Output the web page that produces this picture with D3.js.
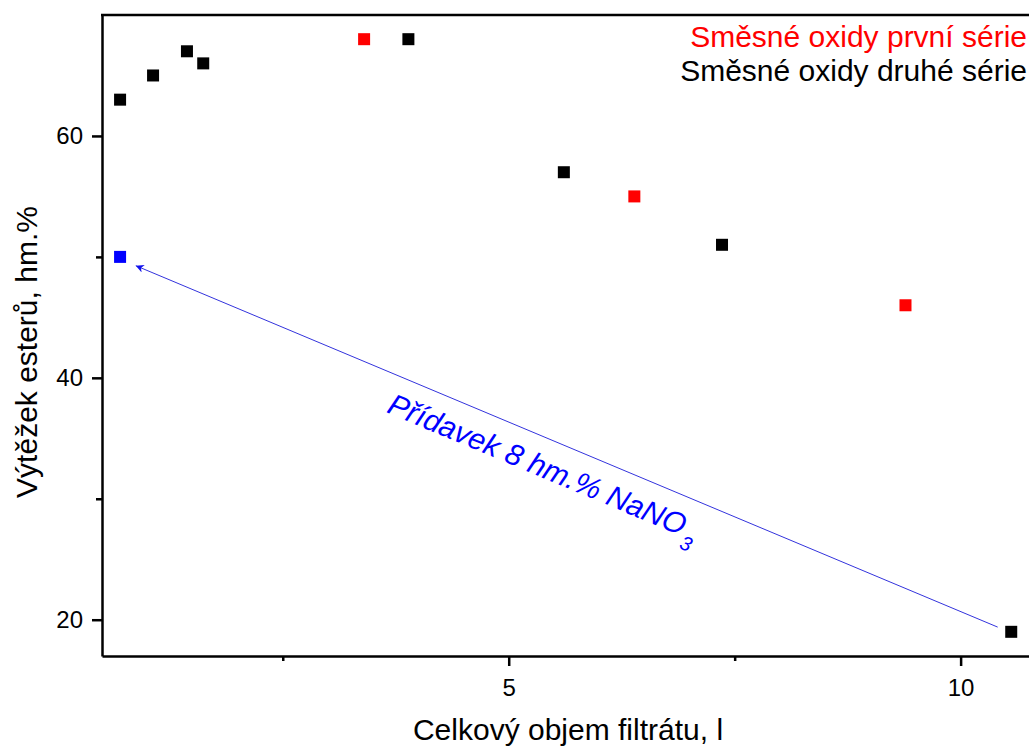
<!DOCTYPE html>
<html><head><meta charset="utf-8">
<script src="https://cdn.jsdelivr.net/npm/d3@7"></script>
<style>body{margin:0;background:#fff}svg{display:block;font-family:"Liberation Sans",Arial,sans-serif}</style>
</head><body>
<svg id="c" width="1029" height="747"></svg>
<script>
// Data
const firstSeriesX = [3.40, 6.39, 9.39];
const firstSeriesY = [68, 55, 46];
const secondSeriesX = [0.70, 1.065, 1.44, 1.62, 3.89, 5.61, 7.36, 10.56];
const secondSeriesY = [63, 65, 67, 66, 68, 57, 51, 19];
const nitrateX = [0.70];
const nitrateY = [50];
const xTicks = [5, 10];
const yTicks = [20, 40, 60];
const legendLabels = ["Směsné oxidy první série", "Směsné oxidy druhé série"];
const arrowFrom = [10.41, 19.39];
const arrowTo = [0.874, 49.27];
const arrowLabel = "Přídavek 8 hm.% NaNO";

const svg = d3.select("#c");
const L = 102, R = 1051, T = 15, B = 656;
const x = d3.scaleLinear().domain([0.5, 11]).range([L, R]);
const y = d3.scaleLinear().domain([17, 70]).range([B, T]);

// axes
const xAxis = d3.axisBottom(x).tickValues(xTicks).tickSize(10).tickSizeOuter(0).tickPadding(13).tickFormat(d3.format("d"));
const xMinor = d3.axisBottom(x).tickValues([2.5, 7.5]).tickSize(5).tickSizeOuter(0).tickFormat("");
const yAxis = d3.axisLeft(y).tickValues(yTicks).tickSize(10).tickSizeOuter(0).tickPadding(9).tickFormat(d3.format("d"));
const yMinor = d3.axisLeft(y).tickValues([30, 50]).tickSize(6).tickSizeOuter(0).tickFormat("");

function style(g){ g.select(".domain").attr("stroke","#000").attr("stroke-width",2.5);
  g.selectAll(".tick line").attr("stroke","#000").attr("stroke-width",2.5);
  g.selectAll(".tick text").attr("font-size",24).attr("fill","#000").attr("font-family","Liberation Sans, Arial, sans-serif"); }

svg.append("g").attr("transform",`translate(0,${B})`).call(xAxis).call(style);
svg.append("g").attr("transform",`translate(0,${B})`).call(xMinor).call(style).select(".domain").remove();
svg.append("g").attr("transform",`translate(${L},0)`).call(yAxis).call(style);
svg.append("g").attr("transform",`translate(${L},0)`).call(yMinor).call(style).select(".domain").remove();
// top frame line
svg.append("line").attr("x1",L-1).attr("x2",R).attr("y1",T).attr("y2",T).attr("stroke","#000").attr("stroke-width",2.5);
svg.append("line").attr("x1",R).attr("x2",R).attr("y1",T).attr("y2",B).attr("stroke","#000").attr("stroke-width",2.5);

// axis titles
svg.append("text").attr("x",568).attr("y",740).attr("text-anchor","middle").attr("font-size",30).text("Celkový objem filtrátu, l");
svg.append("text").attr("transform","translate(37,352) rotate(-90)").attr("text-anchor","middle").attr("font-size",30).text("Výtěžek esterů, hm.%");

// arrow
svg.append("defs").append("marker").attr("id","ah").attr("viewBox","0 0 10 10").attr("refX",10).attr("refY",5)
  .attr("markerWidth",16).attr("markerHeight",8).attr("markerUnits","userSpaceOnUse").attr("orient","auto")
  .append("path").attr("d","M0,0 L10,5 L0,10 L3,5 Z").attr("fill","#1010ee");
svg.append("line").attr("x1",x(arrowFrom[0])).attr("y1",y(arrowFrom[1])).attr("x2",x(arrowTo[0])).attr("y2",y(arrowTo[1]))
  .attr("stroke","#3333dd").attr("stroke-width",1).attr("marker-end","url(#ah)");

const ang = Math.atan2(y(arrowFrom[1])-y(arrowTo[1]), x(arrowFrom[0])-x(arrowTo[0]))*180/Math.PI;
const lbl = svg.append("text").attr("transform",`translate(${x(3.64)},${y(37.17)}) rotate(${ang})`)
  .attr("font-size",30).attr("font-style","italic").attr("fill","#0000ff").text(arrowLabel);
lbl.append("tspan").attr("font-size",20).attr("dy",12).attr("dx",2).text("3");

// points
const sz = 12;
function pts(xs, ys, color){
  svg.append("g").selectAll("rect").data(xs.map((v,i)=>[v,ys[i]])).join("rect")
    .attr("x",d=>x(d[0])-sz/2).attr("y",d=>y(d[1])-sz/2).attr("width",sz).attr("height",sz).attr("fill",color);
}
pts(secondSeriesX, secondSeriesY, "#000");
pts(firstSeriesX, firstSeriesY, "#ff0000");
pts(nitrateX, nitrateY, "#0000ff");

// legend
svg.append("text").attr("x",1027).attr("y",47).attr("text-anchor","end").attr("font-size",30).attr("fill","#ff0000").text(legendLabels[0]);
svg.append("text").attr("x",1027).attr("y",81).attr("text-anchor","end").attr("font-size",30).attr("fill","#000").text(legendLabels[1]);
</script>
</body></html>
